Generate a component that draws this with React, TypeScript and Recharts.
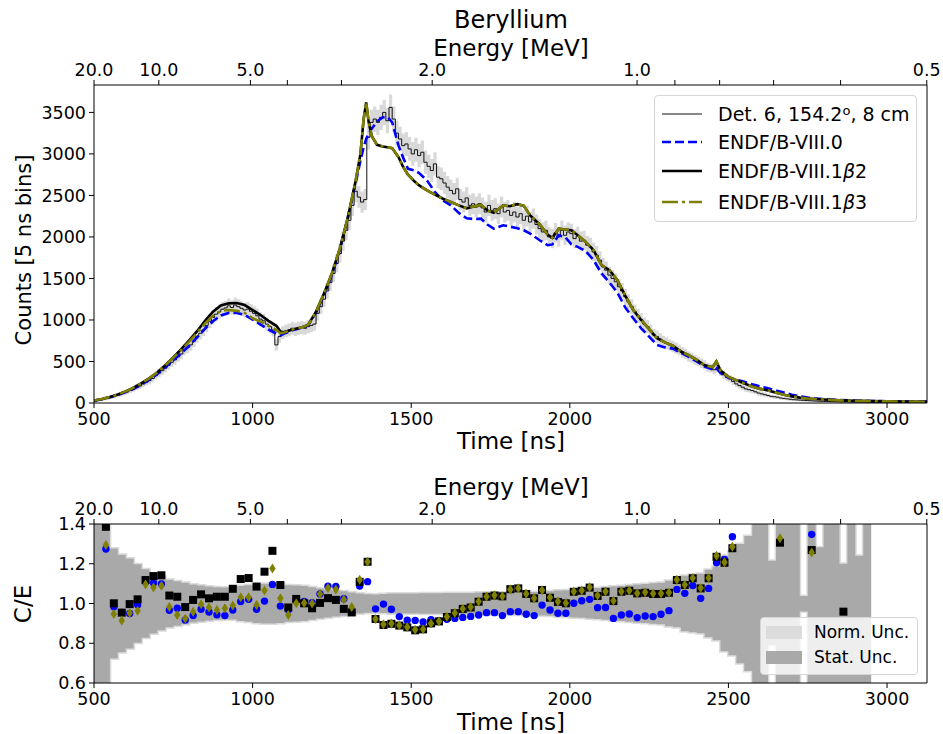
import { ComposedChart, Line, Area, Scatter, XAxis, YAxis, Label } from "recharts";

// ---------- time axis & energy (time-of-flight) axis ----------
const T_DOMAIN: [number, number] = [500, 3126];
const TIME_TICKS = [500, 1000, 1500, 2000, 2500, 3000];
const ENERGY_TICKS = [20, 10, 5, 4, 3, 2, 1, 0.9, 0.8, 0.7, 0.6, 0.5];
const ENERGY_LABELED = [20, 10, 5, 2, 1, 0.5];
const TOF_K = 2205; // ns * sqrt(MeV)
const TOF_T0 = 7;

// ---------- top panel: counts ----------
const COUNT_TICKS = [0, 500, 1000, 1500, 2000, 2500, 3000, 3500];

// experiment, 10 ns sampling starting at 500 ns
const EXP_COUNTS = [
  25, 32, 40, 52, 60, 72, 85, 95, 110, 122,
  135, 150, 170, 190, 205, 230, 250, 270, 295, 330,
  360, 390, 420, 455, 490, 520, 555, 590, 640, 665,
  700, 745, 800, 840, 880, 935, 985, 1030, 1070, 1100,
  1130, 1145, 1170, 1150, 1180, 1160, 1140, 1120, 1130, 1105,
  1080, 1050, 1010, 990, 950, 920, 880, 700, 800, 850,
  870, 880, 900, 885, 900, 910, 900, 920, 935, 950,
  1080, 1160, 1250, 1350, 1450, 1560, 1680, 1800, 1950, 2080,
  2200, 2380, 2550, 2480, 2420, 2450, 3200, 3380, 3420, 3380,
  3440, 3500, 3400, 3560, 3420, 3250, 3180, 3100, 3120, 3060,
  3000, 3050, 2980, 3020, 2900, 2850, 2800, 2880, 2720, 2700,
  2650, 2600, 2560, 2520, 2580, 2450, 2420, 2470, 2380, 2400,
  2360, 2400, 2350, 2300, 2380, 2320, 2340, 2280, 2360, 2300,
  2320, 2260, 2300, 2240, 2280, 2200, 2250, 2180, 2220, 2150,
  2100, 2060, 2080, 2000, 1980, 2050, 2000, 2080, 2020, 2060,
  2040, 1980, 2010, 1950, 1960, 1900, 1880, 1820, 1780, 1720,
  1640, 1600, 1540, 1500, 1460, 1400, 1350, 1280, 1220, 1160,
  1100, 1050, 1000, 950, 920, 870, 820, 800, 770, 740,
  720, 700, 680, 660, 640, 610, 590, 560, 545, 520,
  500, 480, 460, 430, 420, 400, 420, 380, 340, 310,
  290, 260, 230, 210, 190, 170, 160, 150, 135, 120,
  110, 100, 90, 80, 75, 70, 60, 55, 50, 45,
  40, 38, 35, 32, 30, 28, 26, 24, 22, 20,
  19, 18, 17, 16, 15, 14, 14, 13, 12, 12,
  11, 11, 10, 10, 9, 9, 9, 8, 8, 8,
  7, 7, 7, 6, 6, 6, 6, 5, 5, 5,
  5, 5, 5,
];
const EXP_SIGMA_SCALE = 2.6; // band drawn as counts +- scale*sqrt(counts)

const MODEL_T = [
  500, 525, 550, 575, 600, 625, 650, 675, 700, 725,
  750, 775, 800, 825, 850, 875, 900, 925, 950, 975,
  1000, 1025, 1050, 1075, 1088, 1100, 1125, 1150, 1175, 1200,
  1225, 1250, 1275, 1300, 1325, 1340, 1350, 1358, 1366, 1375,
  1392, 1410, 1425, 1440, 1460, 1475, 1490, 1510, 1525, 1550,
  1575, 1600, 1625, 1650, 1675, 1700, 1720, 1740, 1760, 1790,
  1810, 1835, 1855, 1875, 1905, 1930, 1945, 1965, 1985, 2005,
  2025, 2050, 2075, 2100, 2125, 2150, 2175, 2200, 2225, 2250,
  2275, 2300, 2325, 2350, 2375, 2400, 2425, 2450, 2462, 2475,
  2500, 2525, 2550, 2575, 2600, 2625, 2650, 2675, 2700, 2725,
  2750, 2775, 2800, 2850, 2900, 2950, 3000, 3050, 3126,
];
const ENDF80 = [
  28, 45, 68, 97, 132, 172, 222, 282, 350, 430,
  515, 600, 690, 790, 895, 985, 1055, 1085, 1085, 1060,
  1005, 945, 885, 835, 815, 835, 875, 900, 935, 1090,
  1300, 1540, 1850, 2230, 2650, 2920, 3080, 3180, 3250, 3300,
  3390, 3440, 3445, 3380, 3100, 2950, 2820, 2800, 2770, 2680,
  2540, 2440, 2380, 2290, 2225, 2215, 2220, 2150, 2100, 2140,
  2125, 2105, 2080, 2040, 1960, 1900, 1910, 2020, 2000, 1910,
  1880, 1830, 1720, 1560, 1450, 1330, 1150, 1020, 900, 800,
  700, 670, 655, 605, 555, 500, 440, 405, 420, 360,
  305, 280, 255, 225, 200, 178, 150, 125, 100, 80,
  65, 55, 47, 36, 29, 24, 20, 18, 16,
];
const ENDF81B2 = [
  30, 48, 72, 102, 140, 185, 240, 300, 370, 455,
  550, 650, 755, 865, 990, 1100, 1175, 1200, 1205, 1180,
  1120, 1060, 990, 930, 860, 850, 885, 905, 940, 1100,
  1320, 1560, 1860, 2230, 2680, 3000, 3420, 3620, 3380, 3220,
  3110, 3090, 3080, 3070, 2960, 2840, 2750, 2670, 2620, 2560,
  2510, 2460, 2420, 2380, 2345, 2370, 2385, 2320, 2290, 2380,
  2370, 2395, 2375, 2260, 2150, 2030, 1990, 2100, 2090, 2080,
  2020, 1940, 1840, 1660, 1600, 1480, 1290, 1120, 1000, 890,
  780, 730, 690, 620, 575, 520, 455, 430, 500, 390,
  315, 275, 235, 200, 170, 150, 125, 100, 80, 65,
  55, 48, 42, 32, 26, 22, 19, 17, 15,
];
const ENDF81B3 = [
  30, 48, 72, 102, 140, 185, 240, 300, 370, 455,
  545, 640, 740, 845, 960, 1050, 1110, 1120, 1110, 1085,
  1020, 980, 930, 880, 840, 850, 885, 905, 940, 1100,
  1320, 1560, 1860, 2230, 2680, 3000, 3420, 3620, 3380, 3220,
  3110, 3090, 3080, 3070, 2960, 2840, 2750, 2670, 2620, 2560,
  2510, 2460, 2420, 2380, 2345, 2370, 2385, 2320, 2290, 2380,
  2370, 2395, 2375, 2260, 2150, 2030, 1990, 2100, 2090, 2080,
  2020, 1940, 1840, 1660, 1600, 1480, 1290, 1120, 1000, 890,
  780, 730, 690, 620, 575, 520, 455, 430, 500, 390,
  315, 275, 235, 200, 170, 150, 125, 100, 80, 65,
  55, 48, 42, 32, 26, 22, 19, 17, 15,
];

// ---------- bottom panel: C/E ----------
const CE_TICKS = [0.6, 0.8, 1.0, 1.2, 1.4];
const CE_T = [
  537.5, 562.5, 587.5, 612.5, 637.5, 662.5, 687.5, 712.5, 737.5, 762.5,
  787.5, 812.5, 837.5, 862.5, 887.5, 912.5, 937.5, 962.5, 987.5, 1012.5,
  1037.5, 1062.5, 1087.5, 1112.5, 1137.5, 1162.5, 1187.5, 1212.5, 1237.5, 1262.5,
  1287.5, 1312.5, 1337.5, 1362.5, 1387.5, 1412.5, 1437.5, 1462.5, 1487.5, 1512.5,
  1537.5, 1562.5, 1587.5, 1612.5, 1637.5, 1662.5, 1687.5, 1712.5, 1737.5, 1762.5,
  1787.5, 1812.5, 1837.5, 1862.5, 1887.5, 1912.5, 1937.5, 1962.5, 1987.5, 2012.5,
  2037.5, 2062.5, 2087.5, 2112.5, 2137.5, 2162.5, 2187.5, 2212.5, 2237.5, 2262.5,
  2287.5, 2312.5, 2337.5, 2362.5, 2387.5, 2412.5, 2437.5, 2462.5, 2487.5, 2512.5,
  2662.5, 2762.5, 2862.5,
];
const CE_80 = [
  1.274, 0.984, 0.955, 0.950, 0.994, 1.108, 1.104, 1.098, 0.966, 0.976,
  0.917, 0.939, 0.971, 0.957, 0.943, 0.939, 0.967, 1.010, 1.021, 0.971,
  1.012, 1.096, 0.987, 0.968, 1.014, 1.010, 1.004, 1.048, 1.087, 1.086,
  1.024, 0.960, 1.088, 1.110, 0.973, 0.997, 0.971, 0.934, 0.916, 0.915,
  0.907, 0.919, 0.914, 0.921, 0.925, 0.930, 0.935, 0.942, 0.954, 0.954,
  0.939, 0.959, 0.959, 0.946, 0.939, 0.992, 0.967, 0.951, 0.951, 1.001,
  1.014, 1.021, 0.979, 0.980, 0.925, 0.942, 0.947, 0.929, 0.937, 0.934,
  0.946, 0.964, 1.071, 1.051, 1.090, 1.026, 1.076, 1.205, 1.222, 1.336,
  null, 1.348, null,
];
const CE_81B2 = [
  1.386, 1.001, 0.954, 0.997, 1.021, 1.118, 1.138, 1.142, 1.040, 1.034,
  0.982, 1.018, 1.046, 1.026, 1.034, 1.034, 1.074, 1.123, 1.128, 1.085,
  1.160, 1.265, 1.093, 0.980, 1.023, 1.001, 0.976, 1.003, 1.027, 1.018,
  0.973, 0.955, 1.109, 1.210, 0.922, 0.892, 0.898, 0.889, 0.880, 0.865,
  0.870, 0.900, 0.910, 0.932, 0.951, 0.973, 0.980, 1.009, 1.034, 1.040,
  1.036, 1.072, 1.076, 1.048, 1.026, 1.068, 1.029, 1.008, 1.001, 1.059,
  1.064, 1.080, 1.038, 1.059, 1.012, 1.059, 1.064, 1.051, 1.054, 1.048,
  1.048, 1.054, 1.118, 1.093, 1.127, 1.076, 1.127, 1.235, 1.205, 1.278,
  1.306, 1.269, 0.959,
];
const CE_81B3 = [
  1.294, 0.947, 0.915, 0.952, 0.964, 1.095, 1.081, 1.089, 0.982, 0.942,
  0.925, 0.959, 0.996, 0.980, 0.967, 0.976, 0.990, 1.032, 1.032, 0.992,
  1.066, 1.176, 1.026, 0.942, 1.001, 1.003, 1.000, 1.048, 1.078, 1.071,
  1.020, 0.982, 1.120, 1.210, 0.922, 0.895, 0.899, 0.890, 0.882, 0.868,
  0.871, 0.899, 0.911, 0.933, 0.952, 0.974, 0.982, 1.010, 1.035, 1.041,
  1.037, 1.071, 1.077, 1.049, 1.027, 1.067, 1.030, 1.010, 1.003, 1.060,
  1.066, 1.082, 1.040, 1.060, 1.014, 1.060, 1.066, 1.052, 1.056, 1.050,
  1.050, 1.055, 1.120, 1.094, 1.128, 1.078, 1.128, 1.240, 1.208, 1.286,
  1.328, 1.256, null,
];

// statistical uncertainty band, 25 ns bins from 500 ns (half width around 1)
const BAND_HALF = [
  0.5, 0.5, 0.277, 0.245, 0.227, 0.197, 0.172, 0.151, 0.135, 0.12,
  0.112, 0.105, 0.095, 0.09, 0.085, 0.082, 0.08, 0.08, 0.088, 0.092,
  0.098, 0.1, 0.1, 0.098, 0.092, 0.09, 0.088, 0.082, 0.076, 0.07,
  0.066, 0.062, 0.055, 0.05, 0.046, 0.045, 0.048, 0.05, 0.05, 0.05,
  0.05, 0.052, 0.052, 0.052, 0.053, 0.053, 0.053, 0.053, 0.055, 0.055,
  0.055, 0.055, 0.056, 0.057, 0.058, 0.058, 0.06, 0.062, 0.065, 0.067,
  0.07, 0.072, 0.075, 0.078, 0.082, 0.085, 0.088, 0.092, 0.095, 0.098,
  0.102, 0.105, 0.115, 0.12, 0.14, 0.145, 0.15, 0.17, 0.185, 0.24,
  0.26, 0.3, 0.34,
];
// tail bins from 2575 ns, explicit limits
const TAIL_LO = [0.5, 0.5, 0.79, 0.5, 0.5, 0.5, 0.96, 0.5, 0.5, 0.5, 0.5, 0.5, 0.5, 0.5, 0.5];
const TAIL_HI = [1.5, 1.5, 1.215, 1.5, 1.5, 1.5, 1.038, 1.5, 1.283, 1.5, 1.5, 1.2, 1.5, 1.24, 1.5];

// ---------- derived tables ----------
const expLine = EXP_COUNTS.map((v, i) => ({ t: 500 + 10 * i, v }));
const expBand = EXP_COUNTS.map((v, i) => ({
  t: 500 + 10 * i,
  band: [v - EXP_SIGMA_SCALE * Math.sqrt(v), v + EXP_SIGMA_SCALE * Math.sqrt(v)],
}));
const series = (vals: number[]) => vals.map((v, i) => ({ t: MODEL_T[i], v }));
const points = (vals: (number | null)[]) =>
  CE_T.map((t, i) => ({ t, v: vals[i] })).filter((p) => p.v != null);

const statBand: { t: number; band: number[] }[] = [
  ...BAND_HALF.map((h, i) => ({ t: 500 + 25 * i, band: [1 - h, 1 + h] })),
  ...TAIL_LO.map((lo, i) => ({ t: 2575 + 25 * i, band: [lo, TAIL_HI[i]] })),
];
statBand.push({ t: 2950, band: statBand[statBand.length - 1].band });

const tof = (e: number) => TOF_K / Math.sqrt(e) + TOF_T0;
const energyTickTimes = ENERGY_TICKS.map(tof);
const energyLabel = (t: number) => {
  const i = energyTickTimes.findIndex((x) => Math.abs(x - t) < 0.01);
  if (i < 0) return "";
  const e = ENERGY_TICKS[i];
  return ENERGY_LABELED.includes(e) ? e.toFixed(1) : "";
};

const FONT = "DejaVu Sans";
const TICK = { fill: "#000", fontSize: 17.5 };
const AX = { stroke: "#000", strokeWidth: 1 };

const Square = (p: any) => <rect x={p.cx - 4} y={p.cy - 4} width={8} height={8} fill="#000" />;
const Dot = (p: any) => <circle cx={p.cx} cy={p.cy} r={3.7} fill="#0000ff" />;
const Diamond = (p: any) => (
  <polygon
    points={`${p.cx},${p.cy - 5} ${p.cx + 3.2},${p.cy} ${p.cx},${p.cy + 5} ${p.cx - 3.2},${p.cy}`}
    fill="#808000"
  />
);

const txt = (x: number, y: number, s: string, size: number, rot = false) => () => (
  <text
    x={x}
    y={y}
    textAnchor="middle"
    fontSize={size}
    fill="#000"
    fontFamily={FONT}
    transform={rot ? `rotate(-90, ${x}, ${y})` : undefined}
  >
    {s}
  </text>
);

function LegendRow({ y, sample, children }: { y: number; sample: any; children: any }) {
  return (
    <div style={{ position: "absolute", left: 0, top: y - 13, height: 26, display: "flex", alignItems: "center" }}>
      <svg width={48} height={26} style={{ marginLeft: 6 }}>{sample}</svg>
      <span style={{ marginLeft: 9, fontSize: 19, whiteSpace: "nowrap" }}>{children}</span>
    </div>
  );
}

export default function App() {
  const H1 = 462;
  const TOP2 = 462;
  return (
    <div style={{ position: "absolute", left: 0, top: 0, width: 943, height: 734, background: "#fff", fontFamily: FONT }}>
      <div style={{ position: "absolute", left: 0, top: 0 }}>
        <ComposedChart width={943} height={H1} margin={{ top: 0, right: 15, bottom: 0, left: 0 }}>
          <XAxis
            dataKey="t" type="number" domain={T_DOMAIN} allowDataOverflow ticks={TIME_TICKS}
            height={H1 - 403} tick={TICK} tickSize={5} tickMargin={5} axisLine={AX} tickLine={AX} interval={0}
          >
            <Label content={txt(511, 449, "Time [ns]", 23)} />
          </XAxis>
          <XAxis
            xAxisId="E" orientation="top" dataKey="t" type="number" domain={T_DOMAIN} allowDataOverflow
            ticks={energyTickTimes} tickFormatter={energyLabel} height={85} tick={TICK} tickSize={5}
            tickMargin={4} axisLine={AX} tickLine={AX} interval={0}
          >
            <Label content={txt(511, 56, "Energy [MeV]", 23)} />
            <Label content={txt(511, 28, "Beryllium", 24)} />
          </XAxis>
          <YAxis
            type="number" domain={[0, 3830]} allowDataOverflow ticks={COUNT_TICKS} width={94}
            tick={TICK} tickSize={5} tickMargin={3} axisLine={AX} tickLine={AX} interval={0}
          >
            <Label content={txt(31, 250, "Counts [5 ns bins]", 21, true)} />
          </YAxis>
          <YAxis yAxisId="r" orientation="right" width={1} domain={[0, 1]} tick={false} tickLine={false} axisLine={AX} />
          <Area data={expBand} dataKey="band" type="stepAfter" fill="#d9d9d9" fillOpacity={1} stroke="none" isAnimationActive={false} />
          <Line data={expLine} dataKey="v" type="stepAfter" stroke="#111" strokeWidth={1} dot={false} isAnimationActive={false} />
          <Line data={series(ENDF80)} dataKey="v" stroke="#0000ff" strokeWidth={2.6} strokeDasharray="9 4" dot={false} isAnimationActive={false} />
          <Line data={series(ENDF81B2)} dataKey="v" stroke="#000" strokeWidth={2.6} dot={false} isAnimationActive={false} />
          <Line data={series(ENDF81B3)} dataKey="v" stroke="#808000" strokeWidth={2.6} strokeDasharray="16 4 3 4" dot={false} isAnimationActive={false} />
        </ComposedChart>
      </div>

      <div style={{ position: "absolute", left: 0, top: TOP2 }}>
        <ComposedChart width={943} height={734 - TOP2} margin={{ top: 0, right: 15, bottom: 0, left: 0 }}>
          <XAxis
            dataKey="t" type="number" domain={T_DOMAIN} allowDataOverflow ticks={TIME_TICKS}
            height={734 - 683} tick={TICK} tickSize={5} tickMargin={5} axisLine={AX} tickLine={AX} interval={0}
          >
            <Label content={txt(511, 730 - TOP2, "Time [ns]", 23)} />
          </XAxis>
          <XAxis
            xAxisId="E" orientation="top" dataKey="t" type="number" domain={T_DOMAIN} allowDataOverflow
            ticks={energyTickTimes} tickFormatter={energyLabel} height={524 - TOP2} tick={TICK} tickSize={5}
            tickMargin={4} axisLine={AX} tickLine={AX} interval={0}
          >
            <Label content={txt(511, 495 - TOP2, "Energy [MeV]", 23)} />
          </XAxis>
          <YAxis
            dataKey="v" type="number" domain={[0.6, 1.4]} allowDataOverflow ticks={CE_TICKS} width={94}
            tickFormatter={(v: number) => v.toFixed(1)} tick={TICK} tickSize={5} tickMargin={3}
            axisLine={AX} tickLine={AX} interval={0}
          >
            <Label content={txt(31, 604 - TOP2, "C/E", 23, true)} />
          </YAxis>
          <YAxis yAxisId="r" orientation="right" width={1} domain={[0, 1]} tick={false} tickLine={false} axisLine={AX} />
          <Area data={statBand} dataKey="band" type="stepAfter" fill="#dcdcdc" fillOpacity={1} stroke="#dcdcdc" strokeWidth={3} isAnimationActive={false} />
          <Area data={statBand} dataKey="band" type="stepAfter" fill="#a9a9a9" fillOpacity={1} stroke="none" isAnimationActive={false} />
          <Scatter data={points(CE_80)} dataKey="v" shape={Dot} isAnimationActive={false} />
          <Scatter data={points(CE_81B2)} dataKey="v" shape={Square} isAnimationActive={false} />
          <Scatter data={points(CE_81B3)} dataKey="v" shape={Diamond} isAnimationActive={false} />
        </ComposedChart>
      </div>

      {/* legend, top panel */}
      <div
        style={{
          position: "absolute", left: 654, top: 95, width: 263, height: 127, boxSizing: "border-box",
          border: "1px solid #d6d6d6", borderRadius: 4, background: "rgba(255,255,255,0.85)",
        }}
      >
        <LegendRow y={18} sample={<line x1={1} x2={41} y1={13} y2={13} stroke="#111" strokeWidth={1} />}>
          Det. 6, 154.2<sup style={{ fontSize: 13, verticalAlign: "6px" }}>o</sup>, 8 cm
        </LegendRow>
        <LegendRow y={46} sample={<line x1={1} x2={41} y1={13} y2={13} stroke="#0000ff" strokeWidth={2.6} strokeDasharray="9 4" />}>
          ENDF/B-VIII.0
        </LegendRow>
        <LegendRow y={75} sample={<line x1={1} x2={41} y1={13} y2={13} stroke="#000" strokeWidth={2.6} />}>
          ENDF/B-VIII.1<i>β</i>2
        </LegendRow>
        <LegendRow y={106} sample={<line x1={1} x2={41} y1={13} y2={13} stroke="#808000" strokeWidth={2.6} strokeDasharray="16 4 3 4" />}>
          ENDF/B-VIII.1<i>β</i>3
        </LegendRow>
      </div>

      {/* legend, bottom panel */}
      <div
        style={{
          position: "absolute", left: 760, top: 617, width: 158, height: 58, boxSizing: "border-box",
          border: "1px solid #d6d6d6", borderRadius: 4, background: "rgba(255,255,255,0.8)",
        }}
      >
        {[
          { y: 14, c: "#dcdcdc", s: "Norm. Unc." },
          { y: 39, c: "#a9a9a9", s: "Stat. Unc." },
        ].map((r) => (
          <div key={r.s} style={{ position: "absolute", left: 5, top: r.y - 11, height: 22, display: "flex", alignItems: "center" }}>
            <div style={{ width: 36, height: 13, background: r.c }} />
            <span style={{ marginLeft: 12, fontSize: 17, whiteSpace: "nowrap" }}>{r.s}</span>
          </div>
        ))}
      </div>
    </div>
  );
}
